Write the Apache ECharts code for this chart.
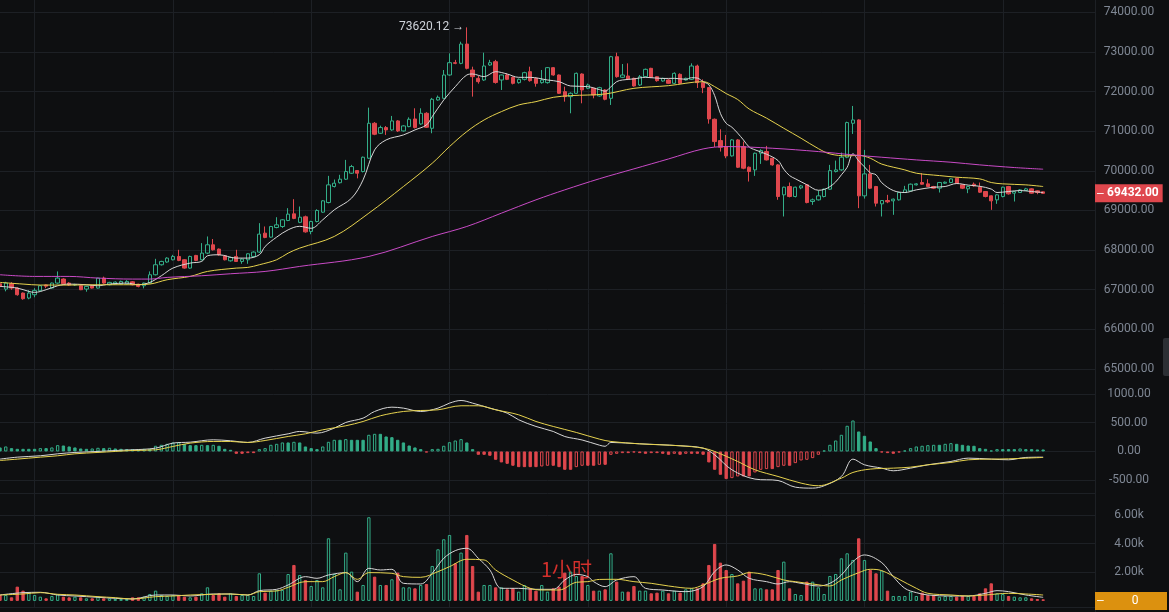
<!DOCTYPE html>
<html>
<head>
<meta charset="utf-8">
<script src="https://cdn.jsdelivr.net/npm/echarts@6/dist/echarts.min.js"></script>
<style>
html,body{margin:0;padding:0;background:#0e0f11;}
#c{width:1169px;height:612px;}
</style>
</head>
<body>
<div id="c"></div>
<script>
// ---- data (1h candles) ----
const opens = [
67150,67017,67150,67042,66916,66790,66874,66975,67120,67042,
67168,67270,67168,67120,67100,67017,67100,67042,67294,67126,
67143,67150,67150,67200,67140,67100,67168,67378,67630,67700,
67756,67840,67756,67546,67865,67756,67924,68134,68025,67857,
67730,67840,67714,67756,67840,67950,68428,68327,68570,68596,
68747,68915,68700,68840,68470,68722,68957,69200,69604,69700,
69789,69940,70007,69982,70318,71200,70948,71091,71032,71259,
71007,71116,71309,71183,71452,71074,71788,71830,72418,72729,
72712,73199,72544,72334,72292,72670,72754,72292,72418,72359,
72225,72309,72502,72334,72225,72225,72603,72418,71998,71872,
71956,72443,72082,72082,71889,72040,71830,72880,72359,72393,
72334,72166,72376,72586,72376,72267,72292,72208,72435,72292,
72309,72645,72225,72100,71301,70763,70612,70377,70780,70612,
70091,70024,70444,70486,70318,70150,69394,69604,69352,69570,
69646,69226,69268,69352,69537,69982,70024,70343,71200,71284,
69369,69923,69604,69167,69251,69243,69268,69453,69495,69646,
69705,69671,69604,69562,69688,69705,69814,69646,69545,69663,
69587,69478,69369,69268,69352,69604,69436,69453,69503,69545,
69495,69470];
const closes = [
67080,67168,67042,66874,66773,66916,66983,67100,67090,67168,
67294,67150,67118,67130,67000,67084,67042,67294,67168,67185,
67193,67210,67210,67126,67084,67168,67378,67630,67714,67798,
67840,67740,67546,67840,67740,67924,68134,68008,67882,67756,
67815,67714,67773,67907,67950,68403,68320,68596,68638,68764,
68907,68800,68830,68460,68722,69000,69243,69646,69688,69789,
69982,70108,69940,70343,71200,70923,71091,71032,71259,71007,
71133,71301,71091,71452,71099,71805,71855,72418,72729,72712,
73199,72586,72376,72250,72645,72729,72230,72418,72309,72208,
72309,72477,72275,72208,72292,72603,72418,71956,71872,71956,
72460,72040,72166,71914,72099,71805,72880,72376,72418,72309,
72141,72376,72561,72359,72275,72334,72208,72460,72208,72334,
72645,72225,72100,71310,70738,70595,70377,70780,70091,70066,
69982,70444,70511,70276,70150,69352,69587,69352,69587,69620,
69200,69268,69369,69537,70007,70024,70343,71217,71284,69369,
69923,69562,69184,69251,69218,69285,69453,69520,69663,69671,
69663,69604,69562,69705,69713,69797,69688,69562,69604,69621,
69461,69352,69243,69394,69587,69419,69478,69520,69545,69436,
69453,69432];
const lows = [
67050,66960,67000,66850,66748,66760,66810,66960,67040,67030,
67150,67130,67100,67100,66990,66950,67030,67030,67150,67110,
67130,67140,67140,67110,67060,67034,67150,67360,67610,67680,
67740,67720,67530,67530,67720,67740,67900,67990,67860,67740,
67710,67700,67655,67655,67820,67930,68300,68310,68550,68560,
68730,68780,68680,68440,68400,68700,68940,69180,69580,69680,
69770,69920,69810,69960,70300,70900,70930,70906,71010,70980,
70990,71100,71070,71160,71080,70948,71770,71810,72400,72690,
72690,72560,71872,72200,72270,72650,72200,72040,72290,72180,
72200,72280,72250,72124,72200,72200,72400,71940,71746,71452,
71940,71704,72060,71830,71870,71780,71662,72350,72340,72290,
72124,72140,72360,72340,72250,72250,72190,72190,72190,72280,
72290,72090,71960,71190,70600,70486,70318,70360,70070,70040,
69730,69873,70175,70260,70130,69270,68848,69330,69330,69536,
69180,69142,69250,69330,69520,69960,70000,70320,70931,69058,
69300,69540,69100,68848,69184,68890,69250,69440,69480,69630,
69650,69590,69540,69453,69670,69690,69670,69540,69436,69600,
69440,69330,69016,69167,69330,69400,69226,69440,69490,69420,
69410,69420];
const highs = [
67200,67200,67190,67060,66930,66990,67040,67120,67130,67180,
67462,67290,67190,67150,67110,67100,67110,67300,67330,67200,
67210,67230,67240,67220,67150,67180,67462,67780,67730,67820,
67880,68008,67770,67860,67880,68176,68344,68280,68040,67870,
67830,68008,67790,67920,67970,68680,68596,68610,68830,68780,
69058,69285,69100,68870,68740,69030,69260,69873,69780,69900,
70276,70150,70010,70360,71595,71230,71140,71130,71385,71280,
71150,71350,71578,71578,71480,71840,71900,72544,72964,72800,
73258,73620.12,72628,72400,72981,72800,72800,72430,72460,72380,
72330,72500,72628,72350,72544,72620,72620,72430,72124,71980,
72480,72460,72200,72100,72120,72060,72900,72981,72695,72712,
72350,72418,72580,72600,72390,72350,72310,72485,72460,72350,
72712,72680,72308,72110,71320,71049,70906,70800,70800,70738,
70110,70460,70545,70629,70330,70170,69600,69705,69600,69645,
69660,69300,69503,69550,70150,70259,70461,71240,71637,71300,
70528,70150,69620,69260,69394,69300,69470,69621,69680,69690,
69940,69789,69620,69720,69730,69810,69830,69660,69620,69705,
69705,69490,69380,69410,69600,69620,69490,69540,69570,69560,
69510,69480];
const volumes = [
413,413,250,995,716,576,413,296,180,343,
460,296,250,296,250,180,180,296,180,180,
133,133,133,250,250,296,483,716,413,343,
413,413,296,250,296,530,949,413,530,296,
530,343,413,413,343,1927,576,716,762,762,
1880,2510,1810,1460,1042,1460,949,4374,1880,809,
3372,2044,646,1112,5842,1694,1112,1112,1508,1974,
949,949,879,1112,1182,2440,3605,4304,4606,2626,
3372,4606,2440,646,1112,1112,949,949,809,879,
646,1112,879,716,1112,646,879,995,1974,2044,
1741,1741,1112,716,716,809,3325,1345,646,646,
1042,716,716,530,576,716,530,716,576,809,
879,879,1228,2510,3978,2673,2160,1880,1228,1415,
2044,879,879,809,809,2160,2743,879,483,413,
1345,1345,949,483,1741,1880,2976,3325,2859,4374,
2859,2160,1927,2114,716,343,343,343,646,343,
576,413,413,296,343,343,296,343,343,343,
530,879,1228,530,483,343,296,250,250,180,
133,110];
const macdHist = [
70,87,58,46,46,46,46,58,58,70,
110,104,87,70,52,46,52,64,58,64,
52,46,41,41,41,46,46,99,116,133,
157,162,128,110,110,116,110,116,99,46,
29,-41,-41,-29,-29,41,58,116,133,157,
157,168,157,87,58,41,87,168,203,203,
215,203,203,203,290,307,307,261,249,203,
157,104,70,41,-17,41,46,99,162,191,
215,157,41,-58,-58,-75,-145,-191,-215,-249,
-273,-273,-273,-273,-261,-249,-249,-273,-319,-319,
-273,-249,-249,-249,-232,-232,-58,-41,-29,-29,
-17,-29,-41,-29,-29,-41,-58,-41,-58,-41,
-41,-41,-58,-191,-319,-406,-481,-464,-435,-435,
-435,-365,-319,-307,-307,-273,-249,-249,-203,-157,
-145,-116,-58,17,116,191,290,447,539,348,
273,174,58,-17,-29,-41,-17,17,58,87,
99,110,116,116,133,145,133,116,104,99,
58,46,17,41,41,41,41,52,41,41,
35,35];
// indicator lines: [candle index, value]
const ma7 = [[0,67084],[3,67042],[5,66958],[6,66933],[8,67000],[10,67100],[12,67143],[15,67126],[17,67100],[19,67143],[22,67168],[24,67126],[26,67185],[28,67353],[30,67546],[33,67672],[35,67714],[36,67857],[38,67882],[41,67798],[43,67798],[45,67882],[46,68092],[48,68327],[50,68512],[52,68600],[54,68550],[56,68764],[58,69016],[61,69310],[63,69772],[65,70528],[67,70780],[70,70906],[72,71032],[74,71158],[75,71368],[77,71788],[79,72124],[81,72418],[82,72443],[84,72376],[86,72502],[88,72443],[90,72359],[92,72359],[95,72292],[97,72250],[99,72141],[102,72124],[104,72050],[105,72010],[106,72120],[107,72250],[108,72292],[110,72320],[112,72360],[115,72330],[117,72334],[119,72309],[120,72350],[121,72340],[122,72250],[123,72170],[124,71900],[125,71450],[126,71200],[127,71100],[128,70950],[129,70780],[130,70600],[131,70530],[133,70420],[135,70260],[136,70040],[137,69880],[138,69800],[140,69650],[142,69510],[143,69530],[144,69600],[145,69720],[146,69900],[147,70090],[148,70430],[149,70250],[150,70100],[151,69950],[152,69900],[153,69700],[155,69503],[157,69453],[159,69520],[162,69587],[164,69604],[166,69680],[168,69640],[170,69610],[172,69540],[173,69453],[175,69478],[177,69503],[179,69478],[181,69453]];
const ma25 = [[0,67185],[4,67143],[7,67118],[12,67118],[17,67126],[23,67126],[26,67143],[29,67252],[33,67336],[36,67462],[41,67546],[43,67563],[45,67630],[48,67756],[50,67924],[52,68050],[58,68344],[64,68932],[70,69604],[75,70192],[78,70612],[81,70990],[84,71284],[87,71494],[90,71662],[93,71746],[96,71855],[99,71897],[105,71939],[110,72082],[116,72149],[122,72250],[124,72124],[126,71950],[128,71800],[130,71560],[133,71330],[136,71074],[139,70822],[142,70560],[144,70427],[147,70377],[149,70390],[151,70318],[153,70170],[157,70024],[159,69940],[163,69880],[166,69839],[170,69797],[172,69705],[174,69671],[178,69646],[181,69604]];
const ma99 = [[0,67378],[6,67336],[12,67336],[17,67294],[23,67269],[26,67269],[29,67311],[35,67353],[40,67403],[46,67462],[52,67588],[64,67840],[75,68344],[81,68596],[87,68932],[93,69268],[98,69520],[104,69800],[110,70050],[116,70300],[122,70553],[126,70612],[134,70570],[142,70486],[148,70402],[153,70343],[159,70276],[165,70217],[170,70150],[176,70083],[181,70041]];
const dif = [[0,-133],[3,-99],[7,-75],[10,-41],[13,-17],[17,0],[20,17],[23,29],[27,58],[30,145],[33,162],[37,203],[40,186],[43,157],[46,232],[50,307],[52,348],[55,319],[58,406],[60,505],[63,580],[65,696],[68,771],[70,754],[73,696],[76,754],[78,841],[80,887],[82,841],[85,754],[88,667],[90,551],[93,435],[96,348],[98,260],[101,200],[104,110],[105,90],[106,157],[111,133],[118,99],[122,58],[124,-58],[127,-319],[131,-481],[135,-505],[138,-621],[141,-638],[143,-597],[146,-435],[148,-133],[150,-232],[153,-290],[155,-336],[158,-290],[161,-232],[165,-174],[168,-116],[172,-133],[175,-145],[178,-104],[181,-99]];
const dea = [[0,-157],[3,-133],[7,-99],[10,-75],[13,-41],[17,-17],[20,0],[23,17],[27,29],[30,87],[33,145],[37,174],[40,174],[43,157],[46,191],[50,261],[53,307],[56,377],[60,447],[63,522],[66,621],[70,696],[73,713],[76,725],[80,795],[83,795],[86,725],[90,638],[93,522],[96,435],[100,331],[104,215],[106,174],[111,133],[118,99],[122,58],[124,0],[128,-174],[131,-319],[135,-435],[139,-551],[142,-597],[146,-464],[148,-365],[151,-307],[155,-290],[158,-273],[161,-232],[165,-191],[168,-145],[172,-133],[175,-128],[178,-116],[181,-104]];
const volMa5 = [[0,413],[4,576],[7,600],[10,413],[13,343],[17,250],[20,180],[23,133],[27,413],[30,413],[33,343],[37,483],[40,483],[43,413],[45,716],[48,809],[50,1112],[53,1694],[55,1578],[57,1810],[60,1974],[62,1345],[64,2277],[66,2160],[68,2207],[70,1228],[73,1182],[75,1927],[77,2976],[79,3512],[81,3675],[83,2976],[85,2160],[87,879],[90,879],[93,809],[96,809],[98,1460],[100,1850],[102,1694],[103,1345],[105,995],[107,1460],[110,1694],[112,879],[115,762],[119,646],[122,995],[124,2044],[126,2510],[128,2160],[130,1578],[133,1345],[135,1182],[137,1345],[139,1228],[142,1042],[144,1228],[146,1810],[148,2743],[150,3209],[153,2673],[155,1694],[157,879],[159,576],[161,413],[165,343],[168,343],[171,530],[173,716],[175,646],[178,413],[181,250]];
const volMa10 = [[0,413],[4,483],[7,576],[10,460],[13,413],[17,296],[20,226],[23,133],[27,296],[30,343],[33,413],[37,460],[40,483],[43,413],[45,646],[48,692],[50,949],[53,1345],[56,1345],[58,1694],[60,1974],[62,1508],[64,1974],[68,1927],[70,1694],[73,1647],[76,2044],[78,2393],[81,2906],[84,2859],[86,2160],[89,1460],[92,879],[94,762],[97,762],[100,1300],[102,1345],[104,1500],[107,1508],[110,1345],[113,1228],[116,1042],[120,879],[122,1112],[125,1578],[128,1741],[130,1974],[133,1810],[136,1460],[138,1345],[141,1182],[144,1042],[146,1460],[149,1974],[151,2207],[153,2114],[156,1508],[159,879],[161,530],[165,413],[168,343],[171,413],[175,530],[178,483],[181,413]];
const priceAxis = [65000, 74000, 1000];
const macdAxis = [-500, 1000, 500];
const volAxis = [0, 6000, 2000];
const watermark = '1小时';

// ---- styling ----
const GREEN = '#33ad88', RED = '#df474d', GRIDC = '#1d2025', LBL = '#7f8794';
const WHITE = '#d6d6d6', YEL = '#e6d24e', MAG = '#c94bc6';
const EMPTY = 'rgba(0,0,0,0)';
const N = opens.length, PAD = 9;
const cats = Array.from({length: N + PAD}, (_, i) => String(i));
const candles = opens.map((o, i) => [o, closes[i], lows[i], highs[i]]);
const volData = volumes.map((v, i) => {
  const up = closes[i] >= opens[i];
  return {value: v, itemStyle: up ? {color: EMPTY, borderColor: GREEN, borderWidth: 1} : {color: RED, borderColor: RED, borderWidth: 1}};
});
const macdData = macdHist.map((v, i) => {
  const c = v >= 0 ? GREEN : RED;
  const hollow = i > 0 && v > macdHist[i - 1];
  return {value: v, itemStyle: hollow ? {color: EMPTY, borderColor: c, borderWidth: 1} : {color: c, borderColor: c, borderWidth: 1}};
});

const chart = echarts.init(document.getElementById('c'), null, {renderer: 'canvas'});
const axisLbl = {color: LBL, fontSize: 12, fontFamily: 'Roboto', align: 'center', margin: 34};
function xAx(gi, bg) {
  return {type: 'category', gridIndex: gi, data: cats, boundaryGap: false,
    axisLine: {show: false}, axisTick: {show: false}, axisLabel: {show: false},
    splitLine: bg ? {show: true, interval: (idx) => idx % 24 === 6, lineStyle: {color: GRIDC, width: 1}} : {show: false}};
}
function line(name, data, color, xi, yi, extra) {
  return Object.assign({name, type: 'line', xAxisIndex: xi, yAxisIndex: yi, data, showSymbol: false,
    smooth: 0.35, lineStyle: {color, width: 1}, itemStyle: {color}, z: 4, silent: true}, extra || {});
}
function boxLine(value, bg, fmt, vWidth, vBold) {
  return {symbol: ['none', 'none'], silent: true,
    lineStyle: {color: EMPTY, width: 0, opacity: 1},
    emphasis: {disabled: true},
    label: {show: true, opacity: 1, position: 'end', distance: 0, backgroundColor: bg, padding: [3, 4, 3, 2],
      formatter: p => '{d|–}{v|' + fmt(p.value) + '}',
      rich: {d: {color: '#fff', fontSize: 12, width: 10},
        v: Object.assign({color: '#fff', fontSize: 12, fontFamily: 'Roboto', fontWeight: vBold ? 'bold' : 'normal'},
          vWidth ? {width: vWidth, align: 'center'} : {})}},
    data: [{yAxis: value}]};
}

chart.setOption({
  backgroundColor: '#0e0f11',
  animation: false,
  grid: [
    {left: 0, right: 74, top: 0, bottom: 5},
    {left: 0, right: 74, top: 12.3, bottom: 612 - 369},
    {left: 0, right: 74, top: 394, bottom: 612 - 480.2},
    {left: 0, right: 74, top: 515, bottom: 612 - 600.9}
  ],
  xAxis: [xAx(0, true), xAx(1), xAx(2), xAx(3)],
  yAxis: [
    {type: 'value', gridIndex: 0, show: false, min: 0, max: 1},
    {type: 'value', gridIndex: 1, position: 'right', min: priceAxis[0], max: priceAxis[1], interval: priceAxis[2],
      axisLine: {show: false}, axisTick: {show: false},
      axisLabel: Object.assign({formatter: v => v.toFixed(2)}, axisLbl),
      splitLine: {lineStyle: {color: GRIDC}}},
    {type: 'value', gridIndex: 2, position: 'right', min: macdAxis[0], max: macdAxis[1], interval: macdAxis[2],
      axisLine: {show: false}, axisTick: {show: false},
      axisLabel: Object.assign({formatter: v => v.toFixed(2)}, axisLbl),
      splitLine: {lineStyle: {color: GRIDC}}},
    {type: 'value', gridIndex: 3, position: 'right', min: volAxis[0], max: volAxis[1], interval: volAxis[2],
      axisLine: {show: false}, axisTick: {show: false},
      axisLabel: Object.assign({formatter: v => v === 0 ? '' : (v / 1000).toFixed(2) + 'k'}, axisLbl),
      splitLine: {showMinLine: false, lineStyle: {color: GRIDC}}}
  ],
  graphic: [
    {type: 'line', silent: true, shape: {x1: 0, y1: 493.5, x2: 1095, y2: 493.5}, style: {stroke: GRIDC, lineWidth: 1}},
    {type: 'line', silent: true, shape: {x1: 0, y1: 607.5, x2: 1095, y2: 607.5}, style: {stroke: GRIDC, lineWidth: 1}},
    {type: 'line', silent: true, shape: {x1: 1095.5, y1: 0, x2: 1095.5, y2: 612}, style: {stroke: GRIDC, lineWidth: 1}},
    {type: 'rect', silent: true, shape: {x: 1163, y: 338, width: 8, height: 38, r: 2}, style: {fill: '#2c2f34'}},
    {type: 'text', silent: true, left: 541, top: 559, z: 1,
      style: {text: watermark, fill: '#d3302c', font: '20px "Noto Sans CJK SC"'}}
  ],
  series: [
    {name: 'K', type: 'candlestick', xAxisIndex: 1, yAxisIndex: 1, data: candles, barWidth: '66%', z: 3,
      itemStyle: {color: EMPTY, color0: RED, borderColor: GREEN, borderColor0: RED, borderWidth: 1},
      markPoint: {symbol: 'circle', symbolSize: 1, itemStyle: {color: EMPTY}, silent: true,
        label: {position: 'left', distance: 2, color: '#cfd3da', fontSize: 12, fontFamily: 'Roboto',
          formatter: p => Number(p.value).toFixed(2) + ' →'},
        data: [{type: 'max', valueDim: 'highest'}]},
      markLine: boxLine(closes[N - 1], RED, v => Number(v).toFixed(2), 0, true)
    },
    line('MA7', ma7, WHITE, 1, 1),
    line('MA25', ma25, YEL, 1, 1),
    line('MA99', ma99, MAG, 1, 1),
    {name: 'MACD', type: 'bar', xAxisIndex: 2, yAxisIndex: 2, data: macdData, barWidth: '58%', clip: false, z: 2},
    line('DIF', dif, WHITE, 2, 2, {clip: false}),
    line('DEA', dea, YEL, 2, 2, {clip: false}),
    {name: 'VOL', type: 'bar', xAxisIndex: 3, yAxisIndex: 3, data: volData, barWidth: '58%', z: 2,
      markLine: boxLine(volAxis[0], '#dc910f', v => String(v), 56, false)
    },
    line('VOL MA5', volMa5, WHITE, 3, 3),
    line('VOL MA10', volMa10, YEL, 3, 3)
  ]
});
</script>
</body>
</html>
